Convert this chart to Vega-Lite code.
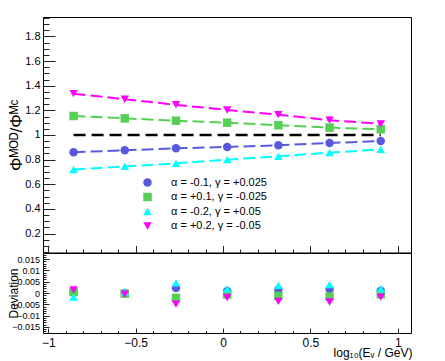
{
  "$schema": "https://vega.github.io/schema/vega-lite/v6.json",
  "autosize": {"type": "pad"},
  "padding": {"left": 6, "top": 11, "right": 5, "bottom": 5},
  "spacing": 0,
  "bounds": "flush",
  "datasets": {
    "pts": [
      {"x": -0.855, "s": "α = -0.1, γ = +0.025", "ratio": 0.86, "dev": 0.0004},
      {"x": -0.562, "s": "α = -0.1, γ = +0.025", "ratio": 0.876, "dev": 0.0},
      {"x": -0.269, "s": "α = -0.1, γ = +0.025", "ratio": 0.892, "dev": 0.0022},
      {"x": 0.024, "s": "α = -0.1, γ = +0.025", "ratio": 0.903, "dev": 0.0009},
      {"x": 0.317, "s": "α = -0.1, γ = +0.025", "ratio": 0.916, "dev": 0.0016},
      {"x": 0.61, "s": "α = -0.1, γ = +0.025", "ratio": 0.935, "dev": 0.0018},
      {"x": 0.903, "s": "α = -0.1, γ = +0.025", "ratio": 0.951, "dev": 0.001},
      {"x": -0.855, "s": "α = +0.1, γ = -0.025", "ratio": 1.154, "dev": 0.0004},
      {"x": -0.562, "s": "α = +0.1, γ = -0.025", "ratio": 1.135, "dev": -0.0003},
      {"x": -0.269, "s": "α = +0.1, γ = -0.025", "ratio": 1.116, "dev": -0.0022},
      {"x": 0.024, "s": "α = +0.1, γ = -0.025", "ratio": 1.1, "dev": -0.0007},
      {"x": 0.317, "s": "α = +0.1, γ = -0.025", "ratio": 1.079, "dev": -0.0013},
      {"x": 0.61, "s": "α = +0.1, γ = -0.025", "ratio": 1.06, "dev": -0.0016},
      {"x": 0.903, "s": "α = +0.1, γ = -0.025", "ratio": 1.046, "dev": -0.0006},
      {"x": -0.855, "s": "α = -0.2, γ = +0.05", "ratio": 0.72, "dev": -0.0018},
      {"x": -0.562, "s": "α = -0.2, γ = +0.05", "ratio": 0.745, "dev": 0.0005},
      {"x": -0.269, "s": "α = -0.2, γ = +0.05", "ratio": 0.77, "dev": 0.0045},
      {"x": 0.024, "s": "α = -0.2, γ = +0.05", "ratio": 0.8, "dev": 0.0019},
      {"x": 0.317, "s": "α = -0.2, γ = +0.05", "ratio": 0.827, "dev": 0.0034},
      {"x": 0.61, "s": "α = -0.2, γ = +0.05", "ratio": 0.857, "dev": 0.0037},
      {"x": 0.903, "s": "α = -0.2, γ = +0.05", "ratio": 0.883, "dev": 0.0019},
      {"x": -0.855, "s": "α = +0.2, γ = -0.05", "ratio": 1.335, "dev": 0.0014},
      {"x": -0.562, "s": "α = +0.2, γ = -0.05", "ratio": 1.29, "dev": -0.0005},
      {"x": -0.269, "s": "α = +0.2, γ = -0.05", "ratio": 1.245, "dev": -0.0049},
      {"x": 0.024, "s": "α = +0.2, γ = -0.05", "ratio": 1.203, "dev": -0.002},
      {"x": 0.317, "s": "α = +0.2, γ = -0.05", "ratio": 1.165, "dev": -0.0037},
      {"x": 0.61, "s": "α = +0.2, γ = -0.05", "ratio": 1.12, "dev": -0.004},
      {"x": 0.903, "s": "α = +0.2, γ = -0.05", "ratio": 1.09, "dev": -0.0018}
    ],
    "ref": [
      {"x": -0.855, "s": "ref", "ratio": 1.0},
      {"x": 0.903, "s": "ref", "ratio": 1.0}
    ]
  },
  "vconcat": [
    {
      "width": 368,
      "height": 235.5,
      "encoding": {
        "x": {
          "field": "x", "type": "quantitative",
          "scale": {"domain": [-1.03, 1.076], "nice": false, "zero": false},
          "axis": {
            "values": [-1.0, -0.9, -0.8, -0.7, -0.6, -0.5, -0.4, -0.3, -0.2, -0.1, 0.0, 0.1, 0.2, 0.3, 0.4, 0.5, 0.6, 0.7, 0.8, 0.9, 1.0],
            "labels": false,
            "title": null,
            "tickSize": {"condition": {"test": "abs(datum.value*2 - round(datum.value*2)) < 0.01", "value": -7}, "value": -3.5}
          }
        },
        "y": {
          "field": "ratio", "type": "quantitative",
          "scale": {"domain": [0.047, 1.957], "nice": false, "zero": false},
          "axis": {
            "values": [0.05, 0.1, 0.15, 0.2, 0.25, 0.3, 0.35, 0.4, 0.45, 0.5, 0.55, 0.6, 0.65, 0.7, 0.75, 0.8, 0.85, 0.9, 0.95, 1.0, 1.05, 1.1, 1.15, 1.2, 1.25, 1.3, 1.35, 1.4, 1.45, 1.5, 1.55, 1.6, 1.65, 1.7, 1.75, 1.8, 1.85, 1.9, 1.95],
            "format": "~g",
            "labelExpr": "abs(datum.value*5 - round(datum.value*5)) < 0.01 ? datum.label : ''",
            "tickSize": {"condition": {"test": "abs(datum.value*5 - round(datum.value*5)) < 0.01", "value": -12}, "value": -6},
            "labelPadding": 15,
            "labelFontSize": 11,
            "labelOverlap": false,
            "title": "Φᴹᴼᴰ/Φᴹᶜ",
            "titleFontSize": 17,
            "titleX": -27,
            "titleBaseline": "middle"
          }
        }
      },
      "layer": [
        {
          "data": {"name": "ref"},
          "mark": {"type": "line", "strokeDash": [12, 6], "strokeWidth": 2.5},
          "encoding": {
            "stroke": {"field": "s", "type": "nominal", "legend": null,
              "scale": {"domain": ["α = -0.1, γ = +0.025", "α = +0.1, γ = -0.025", "α = -0.2, γ = +0.05", "α = +0.2, γ = -0.05", "ref"], "range": ["#5959dd", "#55d055", "#00ffff", "#ff00ff", "#000000"]}}
          }
        },
        {
          "data": {"name": "pts"},
          "mark": {"type": "line", "strokeDash": [12, 5], "strokeWidth": 2},
          "encoding": {
            "stroke": {"field": "s", "type": "nominal", "legend": null,
              "scale": {"domain": ["α = -0.1, γ = +0.025", "α = +0.1, γ = -0.025", "α = -0.2, γ = +0.05", "α = +0.2, γ = -0.05", "ref"], "range": ["#5959dd", "#55d055", "#00ffff", "#ff00ff", "#000000"]}},
            "detail": {"field": "s"}
          }
        },
        {
          "data": {"name": "pts"},
          "mark": {"type": "point", "filled": true, "size": 72, "opacity": 1},
          "encoding": {
            "color": {"field": "s", "type": "nominal",
              "scale": {"domain": ["α = -0.1, γ = +0.025", "α = +0.1, γ = -0.025", "α = -0.2, γ = +0.05", "α = +0.2, γ = -0.05"], "range": ["#5959dd", "#55d055", "#00ffff", "#ff00ff"]},
              "legend": {"title": null, "orient": "none", "legendX": 99, "legendY": 160, "symbolSize": 72, "labelFontSize": 11, "rowPadding": 2.5, "labelOffset": 18, "padding": 0, "symbolStrokeWidth": 0, "labelColor": "black"}},
            "shape": {"field": "s", "type": "nominal",
              "scale": {"domain": ["α = -0.1, γ = +0.025", "α = +0.1, γ = -0.025", "α = -0.2, γ = +0.05", "α = +0.2, γ = -0.05"], "range": ["circle", "square", "triangle-up", "triangle-down"]},
              "legend": {"title": null, "orient": "none", "legendX": 99, "legendY": 160, "symbolSize": 72, "labelFontSize": 11, "rowPadding": 2.5, "labelOffset": 18, "padding": 0, "symbolStrokeWidth": 0, "labelColor": "black"}}
          }
        }
      ]
    },
    {
      "width": 368,
      "height": 80,
      "data": {"name": "pts"},
      "mark": {"type": "point", "filled": true, "size": 72, "opacity": 1},
      "encoding": {
        "x": {
          "field": "x", "type": "quantitative",
          "scale": {"domain": [-1.03, 1.076], "nice": false, "zero": false},
          "axis": {
            "values": [-1.0, -0.9, -0.8, -0.7, -0.6, -0.5, -0.4, -0.3, -0.2, -0.1, 0.0, 0.1, 0.2, 0.3, 0.4, 0.5, 0.6, 0.7, 0.8, 0.9, 1.0],
            "format": "~g",
            "labelExpr": "abs(datum.value*2 - round(datum.value*2)) < 0.01 ? datum.label : ''",
            "tickSize": {"condition": {"test": "abs(datum.value*2 - round(datum.value*2)) < 0.01", "value": -5}, "value": -2.5},
            "labelPadding": 9.5,
            "labelFontSize": 12,
            "labelFlush": false,
            "labelOverlap": false,
            "title": "log₁₀(Eᵥ / GeV)",
            "titleFontSize": 12,
            "titleX": 369,
            "titleY": 23,
            "titleAlign": "right",
            "titleBaseline": "alphabetic"
          }
        },
        "y": {
          "field": "dev", "type": "quantitative",
          "scale": {"domain": [-0.0177, 0.0177], "nice": false, "zero": false},
          "axis": {
            "values": [-0.017, -0.016, -0.015, -0.014, -0.013, -0.012, -0.011, -0.01, -0.009, -0.008, -0.007, -0.006, -0.005, -0.004, -0.003, -0.002, -0.001, 0, 0.001, 0.002, 0.003, 0.004, 0.005, 0.006, 0.007, 0.008, 0.009, 0.01, 0.011, 0.012, 0.013, 0.014, 0.015, 0.016, 0.017],
            "format": "~g",
            "labelExpr": "abs(datum.value*200 - round(datum.value*200)) < 0.01 ? datum.label : ''",
            "tickSize": {"condition": {"test": "abs(datum.value*200 - round(datum.value*200)) < 0.01", "value": -6}, "value": -3},
            "labelPadding": 9.5,
            "labelFontSize": 9,
            "labelOverlap": false,
            "title": "Deviation",
            "titleFontSize": 12,
            "titleX": -30,
            "titleBaseline": "middle"
          }
        },
        "color": {"field": "s", "type": "nominal",
          "scale": {"domain": ["α = -0.1, γ = +0.025", "α = +0.1, γ = -0.025", "α = -0.2, γ = +0.05", "α = +0.2, γ = -0.05"], "range": ["#5959dd", "#55d055", "#00ffff", "#ff00ff"]},
          "legend": {"title": null, "orient": "none", "legendX": 99, "legendY": 160, "symbolSize": 72, "labelFontSize": 11, "rowPadding": 2.5, "labelOffset": 18, "padding": 0, "symbolStrokeWidth": 0, "labelColor": "black"}},
        "shape": {"field": "s", "type": "nominal",
          "scale": {"domain": ["α = -0.1, γ = +0.025", "α = +0.1, γ = -0.025", "α = -0.2, γ = +0.05", "α = +0.2, γ = -0.05"], "range": ["circle", "square", "triangle-up", "triangle-down"]},
          "legend": {"title": null, "orient": "none", "legendX": 99, "legendY": 160, "symbolSize": 72, "labelFontSize": 11, "rowPadding": 2.5, "labelOffset": 18, "padding": 0, "symbolStrokeWidth": 0, "labelColor": "black"}}
      }
    }
  ],
  "config": {
    "font": "Liberation Sans",
    "view": {"stroke": "black", "strokeWidth": 1},
    "axis": {
      "domain": false,
      "grid": false,
      "labelFont": "Liberation Sans",
      "titleFont": "Liberation Sans",
      "labelColor": "black",
      "titleColor": "black",
      "titleFontWeight": "normal",
      "tickColor": "#222",
      "labelFlush": false
    },
    "legend": {"labelFont": "Liberation Sans"}
  }
}
